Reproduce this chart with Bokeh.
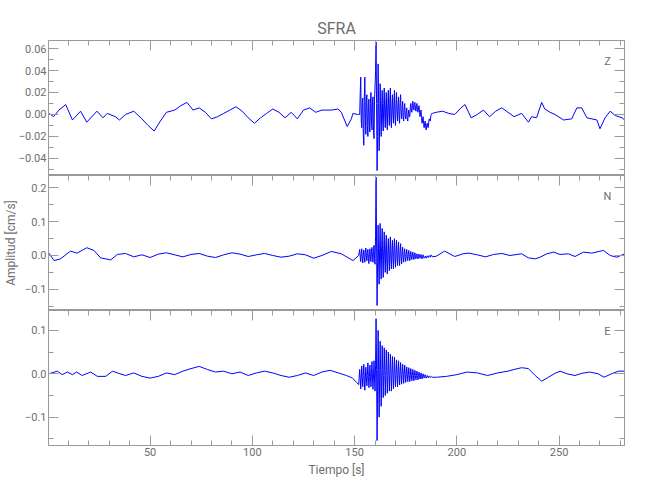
import numpy as np
from bokeh.plotting import figure
from bokeh.layouts import column
from bokeh.models import FixedTicker, LinearAxis, Label, CustomJSTickFormatter, Range1d
from bokeh.embed import file_html
from bokeh.resources import INLINE

# ---------------- data ----------------
title_txt = "SFRA"
channels = ["Z", "N", "E"]
x_ticks = [50, 100, 150, 200, 250]
x_minor = list(range(10, 290, 10))

# Z component
t_z_pre = [0.5, 2.8, 5.4, 8.7, 12, 16, 19, 24, 27, 29, 33, 35, 38, 42, 46, 49, 52, 55, 58, 62,
           65, 68, 71, 74, 77, 80, 83, 86, 89, 92, 95, 98, 101, 104, 107, 110, 113, 116, 119, 122,
           125, 128, 131, 134, 138.6, 141.9, 143.5, 146.4, 148.4, 149.2, 151.3, 152]
z_pre = [0.001, -0.002, 0.004, 0.009, -0.005, 0.003, -0.007, 0.003, -0.003, 0.001, -0.002, -0.005,
         0.000, 0.003, -0.004, -0.010, -0.015, -0.006, 0.002, 0.004, 0.008, 0.011, 0.004, 0.006,
         0.002, -0.004, -0.002, 0.001, 0.004, 0.007, 0.003, -0.003, -0.008, -0.003, 0.001, 0.005,
         0.002, -0.003, 0.002, -0.004, 0.004, 0.006, 0.002, 0.004, 0.004, 0.005, 0.002, -0.011,
         -0.004, 0.001, 0.000, 0.000]
z_burst = [0.000, 0.020, 0.034, -0.006, -0.012, 0.010, 0.015, -0.018, -0.028, 0.012,
           0.034, -0.004, -0.018, 0.012, 0.018, -0.010, -0.020, 0.008, 0.014, -0.012,
           -0.016, 0.010, 0.020, -0.006, -0.014, 0.012, 0.016, -0.016, -0.022, 0.014,
           0.025, 0.040, 0.066, 0.010, -0.051, -0.020, 0.046, 0.010, -0.033, -0.010,
           0.028, 0.002, -0.020, 0.006, 0.022, -0.006, -0.015, 0.010, 0.024, -0.002,
           -0.012, 0.008, 0.020, -0.004, -0.014, 0.010, 0.022, 0.000, -0.010, 0.014,
           0.024, -0.004, -0.012, 0.008, 0.018, 0.000, -0.008, 0.012, 0.022, -0.002,
           -0.010, 0.010, 0.020, 0.002, -0.006, 0.008, 0.016, -0.002, -0.008, 0.010,
           0.018, 0.002, -0.004, 0.006, 0.012, -0.002, -0.006, 0.004, 0.010, 0.000,
           -0.004, 0.002, 0.006, -0.004, -0.006, 0.000, 0.004, -0.002, -0.002, 0.006,
           0.010, 0.004, 0.002, 0.008, 0.012, 0.006, 0.004, 0.009, 0.011, 0.005,
           0.003, 0.008, 0.010, 0.004, 0.002, 0.006, 0.008, 0.002, -0.002, 0.002,
           0.004, -0.003, -0.008, -0.004, -0.002, -0.008, -0.012, -0.008, -0.006, -0.011,
           -0.014, -0.010, -0.008, -0.011, -0.012, -0.007, -0.004, -0.005, -0.006, -0.002,
           0.000, 0.001, 0.001]
t_z_post = [190, 193, 196, 199, 202, 204, 207, 210, 213, 216, 219, 222, 225, 228, 231.7, 235, 236.6,
            239, 241.5, 243, 245.6, 248, 252.2, 256.2, 258.7, 261.1, 263.6, 266, 268.5, 270, 272.5,
            275, 277.5, 280.8, 282]
z_post = [0.002, 0.003, 0.001, 0.000, 0.006, 0.009, -0.003, 0.000, 0.004, -0.002, 0.003, 0.006,
          0.002, -0.002, 0.001, -0.007, -0.002, -0.003, 0.011, 0.005, 0.002, 0.000, -0.005, -0.004,
          0.006, 0.006, -0.003, -0.004, -0.005, -0.013, -0.003, 0.003, -0.001, -0.003, -0.005]

# N component
t_n_pre = [0.5, 3, 6.2, 11, 14.3, 19, 22.5, 25.8, 30.7, 34, 38, 42, 46, 50, 54, 58, 62, 66, 70, 74,
           78, 82, 86, 90, 94, 98, 102, 106, 110, 114, 118, 122, 126, 130, 134, 138.6, 143.5, 149.2, 152]
n_pre = [0.007, -0.015, -0.010, 0.013, 0.007, 0.023, 0.015, -0.007, -0.013, 0.003, 0.006, -0.004,
         0.002, -0.006, 0.004, 0.008, 0.002, -0.004, 0.003, 0.006, -0.002, -0.006, 0.002, 0.008,
         0.004, -0.003, 0.002, 0.006, 0.000, -0.005, -0.002, 0.005, 0.002, -0.008, 0.000, 0.012,
         0.005, -0.015, 0.000]
n_burst = [0.018, -0.004, -0.018, 0.006, 0.020, -0.008, -0.022, 0.004, 0.016, -0.006,
           -0.020, 0.010, 0.022, -0.002, -0.016, 0.008, 0.018, -0.010, -0.024, 0.006,
           0.020, -0.004, -0.018, 0.010, 0.024, -0.006, -0.020, 0.012, 0.030, -0.008,
           -0.026, 0.060, 0.232, 0.040, -0.148, -0.020, 0.090, -0.010, -0.085, 0.020,
           0.095, -0.020, -0.070, 0.030, 0.080, -0.015, -0.065, 0.020, 0.070, -0.010,
           -0.050, 0.025, 0.060, -0.020, -0.055, 0.015, 0.050, -0.010, -0.045, 0.020,
           0.055, -0.012, -0.040, 0.018, 0.045, -0.010, -0.040, 0.020, 0.050, -0.008,
           -0.035, 0.015, 0.045, -0.006, -0.030, 0.014, 0.040, -0.008, -0.030, 0.010,
           0.035, -0.004, -0.025, 0.008, 0.025, -0.006, -0.020, 0.006, 0.020, -0.004,
           -0.018, 0.004, 0.018, -0.004, -0.015, 0.004, 0.015, -0.004, -0.015, 0.002,
           0.012, -0.004, -0.012, 0.002, 0.010, -0.004, -0.012, 0.000, 0.008, -0.004,
           -0.010, 0.000, 0.005, -0.004, -0.010, -0.002, 0.004, -0.004, -0.008, -0.002,
           0.003, -0.004, -0.010, -0.004, 0.002, -0.004, -0.008, -0.006, -0.002, -0.004,
           -0.008, -0.004, -0.001, -0.004, -0.006, -0.002, 0.000, -0.002, -0.005, -0.001,
           0.002, -0.001, -0.004]
t_n_post = [190, 194, 199, 203, 206, 210, 214, 218, 222, 226, 231.7, 235, 238.3, 240.7, 244, 247.3,
            250.5, 254.6, 257.8, 261.9, 266, 271.7, 275, 278.3, 282]
n_post = [-0.002, 0.013, -0.003, 0.005, 0.007, 0.002, -0.004, 0.003, 0.006, 0.000, 0.005, -0.007,
          -0.010, -0.005, 0.005, 0.010, 0.003, 0.005, -0.003, 0.010, 0.007, 0.015, 0.000, -0.005, 0.005]

# E component
t_e_pre = [0.5, 4.6, 7, 9.5, 12, 14, 16.8, 20.9, 24.2, 28.3, 31.6, 34.6, 38, 42, 46, 50, 54, 58, 62,
           66, 70, 74, 78, 82, 86, 90, 94, 98, 102, 106, 110, 114, 118, 122, 126, 130, 134, 138, 142,
           146, 149, 151, 152]
e_pre = [0.000, 0.006, -0.002, 0.004, -0.002, 0.004, -0.004, 0.004, -0.006, -0.006, 0.006, 0.001,
         -0.004, 0.002, -0.006, -0.010, -0.006, 0.002, -0.002, 0.006, 0.012, 0.017, 0.010, 0.004,
         0.006, 0.000, 0.004, -0.004, 0.002, 0.006, 0.002, -0.004, -0.008, -0.004, 0.002, -0.004,
         0.004, 0.008, 0.002, -0.004, -0.010, -0.020, -0.025]
e_burst = [0.010, -0.010, -0.035, -0.010, 0.018, -0.008, -0.030, -0.004, 0.022, -0.012,
           -0.038, -0.010, 0.015, -0.006, -0.028, -0.004, 0.025, -0.008, -0.032, -0.006,
           0.020, -0.010, -0.030, 0.000, 0.028, -0.010, -0.036, 0.000, 0.030, -0.012,
           -0.040, 0.020, 0.127, 0.010, -0.154, -0.030, 0.100, 0.010, -0.100, -0.010,
           0.075, 0.005, -0.075, -0.010, 0.065, 0.010, -0.055, -0.005, 0.060, 0.008,
           -0.050, -0.004, 0.055, 0.006, -0.045, -0.006, 0.050, 0.004, -0.040, -0.002,
           0.045, 0.006, -0.040, -0.004, 0.040, 0.004, -0.035, -0.004, 0.038, 0.004,
           -0.030, -0.002, 0.032, 0.004, -0.030, -0.004, 0.030, 0.002, -0.026, -0.002,
           0.026, 0.002, -0.024, -0.002, 0.022, 0.002, -0.022, -0.002, 0.020, 0.000,
           -0.020, -0.002, 0.016, 0.000, -0.018, -0.004, 0.014, -0.002, -0.018, -0.004,
           0.012, -0.002, -0.016, -0.004, 0.010, -0.003, -0.016, -0.004, 0.008, -0.004,
           -0.014, -0.004, 0.006, -0.004, -0.014, -0.006, 0.004, -0.004, -0.012, -0.005,
           0.002, -0.005, -0.012, -0.006, 0.000, -0.005, -0.010, -0.006, -0.002, -0.006,
           -0.010, -0.006, -0.004, -0.007, -0.009, -0.006, -0.005, -0.007, -0.009, -0.007,
           -0.006, -0.007, -0.008]
t_e_post = [190, 195, 200, 205, 210, 215, 220, 225, 228, 231.7, 235, 238.3, 241.5, 244.8, 248, 250.5,
            253.8, 257.8, 261.1, 265, 269.1, 272, 275.7, 279, 282]
e_post = [-0.008, -0.006, -0.002, 0.004, 0.002, -0.004, 0.002, 0.006, 0.010, 0.014, 0.012, -0.004,
          -0.017, -0.008, 0.001, 0.006, 0.000, -0.004, 0.001, 0.004, 0.000, -0.008, 0.000, 0.006, 0.006]

burst_start = 152.5
burst_step = 0.25

y_ranges = [(-0.0555, 0.0673), (-0.163, 0.237), (-0.1655, 0.146)]
y_major = [[-0.04, -0.02, 0.0, 0.02, 0.04, 0.06], [-0.1, 0.0, 0.1, 0.2], [-0.1, 0.0, 0.1]]
y_minor = [[-0.05, -0.03, -0.01, 0.01, 0.03, 0.05],
           [-0.15, -0.05, 0.05, 0.15],
           [-0.15, -0.05, 0.05]]
y_digits = [2, 1, 1]

# ---------------- styling ----------------
FONT = "Roboto"
TXT = "#6e6e6e"
AX = "#9a9a9a"
FW, FH = 576, 135


def series(t_pre, v_pre, v_burst, t_post, v_post):
    tb = burst_start + burst_step * np.arange(len(v_burst))
    t = np.concatenate([t_pre, tb, t_post])
    v = np.concatenate([v_pre, v_burst, v_post])
    return t, v


data = [series(t_z_pre, z_pre, z_burst, t_z_post, z_post),
        series(t_n_pre, n_pre, n_burst, t_n_post, n_post),
        series(t_e_pre, e_pre, e_burst, t_e_post, e_post)]


def style_axis(ax, labels=True, digits=None):
    ax.axis_line_color = AX
    ax.major_tick_line_color = AX
    ax.minor_tick_line_color = AX
    ax.major_tick_in = 10
    ax.major_tick_out = 0
    ax.minor_tick_in = 5
    ax.minor_tick_out = 0
    if labels:
        ax.major_label_text_color = TXT
        ax.major_label_text_font = FONT
        ax.major_label_text_font_size = "11px"
        ax.major_label_standoff = 2
        if digits is not None:
            ax.formatter = CustomJSTickFormatter(
                code="return tick.toFixed(%d).replace('-', '\u2212');" % digits)
    else:
        ax.major_label_text_color = None
        ax.major_label_text_font_size = "1px"
        ax.major_label_standoff = 0


figs = []
x_range = Range1d(0.3, 282)
for i, ch in enumerate(channels):
    last = i == 2
    p = figure(frame_width=FW, frame_height=FH, x_range=x_range,
               y_range=Range1d(*y_ranges[i]), x_axis_type=None, y_axis_type=None,
               output_backend="svg", toolbar_location=None,
               min_border_left=47, min_border_right=19,
               min_border_top=40 if i == 0 else 0,
               min_border_bottom=45 if last else 0)
    p.outline_line_color = AX
    p.background_fill_color = "white"
    p.border_fill_color = "white"

    if i == 0:
        p.title.text = title_txt
        p.title.align = "center"
        p.title.text_font = FONT
        p.title.text_font_size = "16px"
        p.title.text_font_style = "normal"
        p.title.text_color = TXT
        p.title.standoff = 6

    yt = FixedTicker(ticks=y_major[i], minor_ticks=y_minor[i])
    xt = FixedTicker(ticks=x_ticks, minor_ticks=x_minor)

    left = LinearAxis(ticker=yt)
    style_axis(left, True, y_digits[i])
    if i == 1:
        left.axis_label = "Amplitud [cm/s]"
        left.axis_label_text_color = TXT
        left.axis_label_text_font = FONT
        left.axis_label_text_font_size = "12px"
        left.axis_label_text_font_style = "normal"
        left.axis_label_standoff = 4
    p.add_layout(left, "left")
    right = LinearAxis(ticker=yt)
    style_axis(right, False)
    p.add_layout(right, "right")
    top = LinearAxis(ticker=xt)
    style_axis(top, False)
    p.add_layout(top, "above")
    if last:
        bottom = LinearAxis(ticker=xt, axis_label="Tiempo [s]")
        style_axis(bottom, True)
        bottom.axis_label_text_color = TXT
        bottom.axis_label_text_font = FONT
        bottom.axis_label_text_font_size = "12px"
        bottom.axis_label_text_font_style = "normal"
        bottom.axis_label_standoff = 4
        p.add_layout(bottom, "below")

    t, v = data[i]
    p.line(t, v, line_color="#0000ff", line_width=1)

    p.add_layout(Label(x=FW - 17, y=114, x_units="screen", y_units="screen", text=ch,
                       text_font=FONT, text_font_size="11px", text_color=TXT,
                       text_align="center", text_baseline="middle"))
    figs.append(p)

layout = column(*figs, spacing=0)
open("out.html", "w").write(file_html(layout, INLINE))
